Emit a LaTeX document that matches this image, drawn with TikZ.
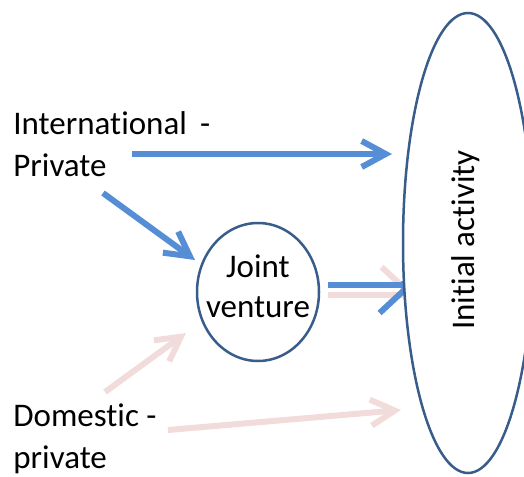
\documentclass[tikz,border=0pt]{standalone}
\usepackage{fontspec}
\setmainfont{Carlito}[Ligatures=NoCommon]
\usetikzlibrary{arrows.meta,shapes.geometric}

\definecolor{flowblue}{HTML}{558ED5}
\definecolor{flowpink}{HTML}{F2DCDB}
\definecolor{rimblue}{HTML}{385D8A}

\tikzset{
  lbl/.style={inner sep=0pt, align=left, font=\fontsize{16.5pt}{21pt}\selectfont},
  blob/.style={ellipse, draw=rimblue, line width=1.25pt, fill=white, inner sep=0pt},
  flow/.style={line width=3pt, -{Straight Barb[length=12pt,width=13pt]}},
  bigflow/.style={line width=3pt, -{Straight Barb[length=15pt,width=28pt]}}
}

\begin{document}
\begin{tikzpicture}[x=0.5pt, y=-0.5pt]
\useasboundingbox (0,0) rectangle (524,476);

\node (intl) [lbl, anchor=north west] at (13,111) {International\hspace{0.4em}-\\Private};
\node (dom) [lbl, anchor=north west] at (13,403) {Domestic -\\private};

\coordinate (intlA) at (132,154);
\coordinate (intlB) at (103,193);
\coordinate (domA) at (105,392);
\coordinate (domB) at (168,430);
\coordinate (jvA) at (328,285);
\coordinate (jvB) at (328,295);
\coordinate (initA) at (392,154);
\coordinate (jvin) at (195,260);
\coordinate (jvpk) at (186,333);
\coordinate (initB) at (414,285);
\coordinate (initC) at (416,295);
\coordinate (initD) at (401,410);

\draw[flow, flowblue] (intlA) -- (initA);
\draw[flow, flowblue] (intlB) -- (jvin);
\draw[flow, flowpink] (domA) -- (jvpk);
\draw[flow, flowpink] (domB) -- (initD);

\begin{scope}
  \clip (300,250) -- (440,250) -- (440,299) -- (370,299) -- (370,340) -- (300,340) -- cycle;
  \draw[bigflow, flowpink] (jvB) -- (initC);
\end{scope}
\begin{scope}
  \clip (300,340) -- (440,340) -- (440,281) -- (370,281) -- (370,240) -- (300,240) -- cycle;
  \draw[bigflow, flowblue] (jvA) -- (initB);
\end{scope}

\node (jv) [blob, minimum width=61pt, minimum height=69pt] at (258,292) {};
\node (jvtext) [lbl, align=center, font=\fontsize{16.5pt}{20pt}\selectfont] at (258,286) {Joint\\venture};
\node (init) [blob, minimum width=230pt, minimum height=65pt, rotate=90] at (468,243) {};
\node (inittext) [lbl, rotate=90] at (466,240) {Initial activity};

\end{tikzpicture}
\end{document}
